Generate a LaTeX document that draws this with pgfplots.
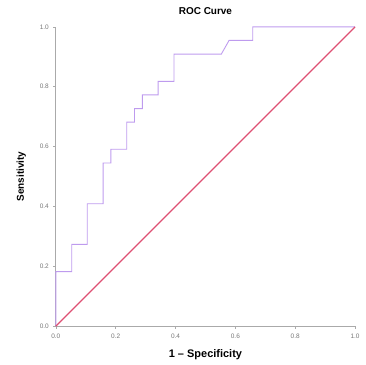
\documentclass[border=0pt]{standalone}
\usepackage{fontspec}
\setmainfont{Liberation Sans}
\usepackage{pgfplots}
\pgfplotsset{compat=1.18}
\definecolor{roc}{RGB}{190,155,238}
\definecolor{diag}{RGB}{222,80,115}
\definecolor{axg}{RGB}{170,170,170}
\definecolor{tickg}{RGB}{120,120,120}
\begin{document}
\begin{tikzpicture}
\begin{axis}[
  scale only axis, width=300pt, height=300pt,
  xmin=0, xmax=1, ymin=0, ymax=1,
  axis lines=left,
  axis line style={axg, line width=0.8pt, -},
  xtick={0,0.2,...,1.0}, ytick={0,0.2,...,1.0},
  tick style={axg, line width=0.6pt},
  major tick length=2.5pt,
  tick align=outside,
  /pgf/number format/.cd, fixed, fixed zerofill, precision=1, assume math mode=true,
  /pgfplots/.cd,
  ticklabel style={font=\fontsize{6.5}{7}\selectfont, text=tickg},
  xticklabel style={yshift=-2pt},
  yticklabel style={xshift=-1pt},
  xlabel={\textbf{1 -- Specificity}},
  ylabel={\textbf{Sensitivity}},
  xlabel style={font=\fontsize{11}{13}\selectfont, yshift=-4pt},
  ylabel style={font=\fontsize{10}{12}\selectfont, yshift=7pt},
  title={\textbf{ROC Curve}},
  title style={font=\fontsize{10}{12}\selectfont, yshift=3pt},
  clip=false,
]
\addplot[roc, line width=0.9pt] coordinates {
(0,0) (0,0.182) (0.053,0.182) (0.053,0.273) (0.105,0.273) (0.105,0.409)
(0.158,0.409) (0.158,0.545) (0.184,0.545) (0.184,0.591) (0.237,0.591)
(0.237,0.682) (0.263,0.682) (0.263,0.727) (0.289,0.727) (0.289,0.773)
(0.342,0.773) (0.342,0.818) (0.395,0.818) (0.395,0.909) (0.553,0.909)
(0.579,0.955) (0.658,0.955) (0.658,1) (1,1)
};
\addplot[diag, line width=1.3pt] coordinates {(0,0) (1,1)};
\end{axis}
\path[use as bounding box] ([shift={(-56pt,-39pt)}]current axis.south west) rectangle ([shift={(11pt,27pt)}]current axis.north east);
\end{tikzpicture}
\end{document}
